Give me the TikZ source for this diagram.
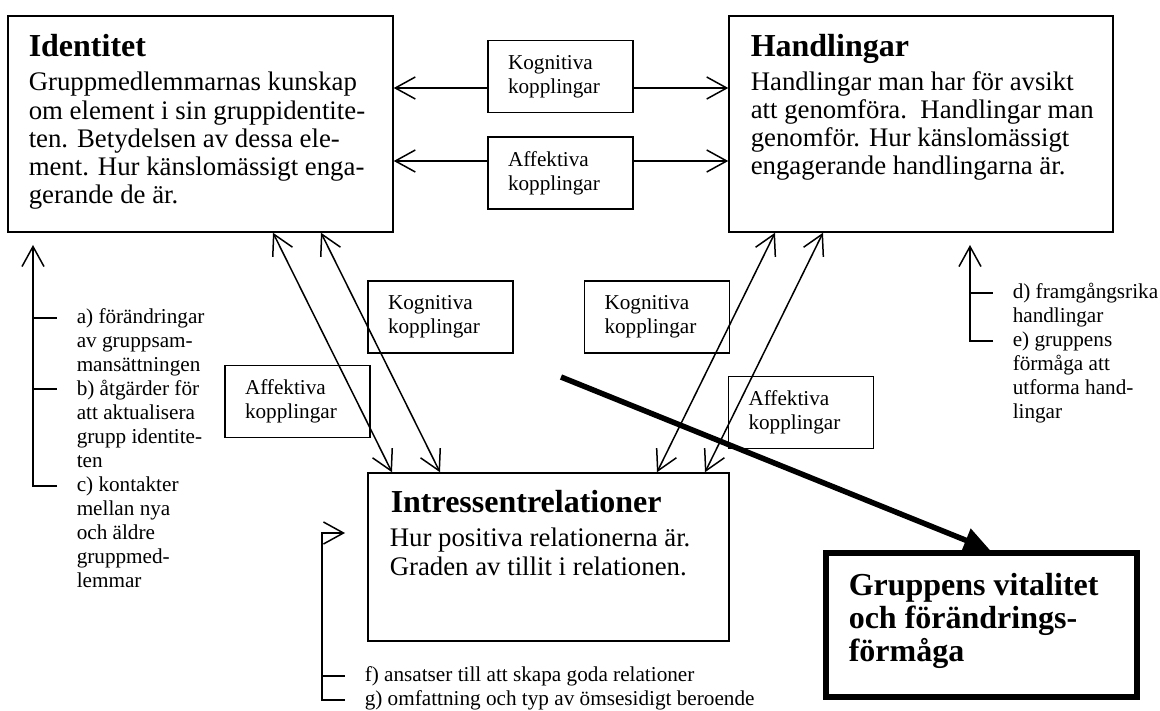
\documentclass[tikz,border=0pt]{standalone}
\usepackage{fontspec}
\setmainfont{Liberation Serif}
\usetikzlibrary{arrows.meta}
\newcommand{\ttlfont}{\fontsize{32}{33}\selectfont\bfseries}
\newcommand{\bodyfont}{\fontsize{26.8}{28.3}\selectfont}
\newcommand{\smlfont}{\fontsize{21.2}{24}\selectfont}

\begin{document}
\begin{tikzpicture}[x=1pt, y=-1pt, line width=1.5pt,
   >={Straight Barb[length=20pt, width=22pt]},
   bigbox/.style={draw, inner sep=0pt},
   linkbox/.style={draw, fill=white, minimum width=145pt, minimum height=72pt,
      text width=105pt, align=left, inner sep=0pt, font=\smlfont},
   ttl/.style={anchor=base west, align=left, inner sep=0pt, font=\ttlfont},
   txt/.style={anchor=base west, align=left, inner sep=0pt, font=\bodyfont},
   note/.style={anchor=base west, align=left, inner sep=0pt, font=\smlfont}]
         \useasboundingbox (0,0) rectangle (1160,711);
         \node[bigbox, minimum width=385pt, minimum height=216pt] (Id) at (200.5,124) {};
         \node[bigbox, minimum width=384pt, minimum height=216pt] (Ha) at (921,124) {};
         \node[bigbox, minimum width=361pt, minimum height=168pt] (Re) at (548.5,557) {};
         \node[bigbox, line width=6pt, minimum width=311pt, minimum height=144pt] (Vi) at (981.5,625) {};
         \node[ttl] (IdT) at (28,57) {Identitet};
         \node[txt] (IdB) at (28,204) {Gruppmedlemmarnas kunskap\\om element i sin gruppidentite-\\ten. Betydelsen av dessa ele-\\ment. Hur känslomässigt enga-\\gerande de är.};
         \node[ttl] (HaT) at (750,57) {Handlingar};
         \node[txt] (HaB) at (750,175) {Handlingar man har för avsikt\\att genomföra.\ \ Handlingar man\\genomför. Hur känslomässigt\\engagerande handlingarna är.};
         \node[ttl] (ReT) at (390,512) {Intressentrelationer};
         \node[txt] (ReB) at (389,575) {Hur positiva relationerna är.\\Graden av tillit i relationen.};
         \node[ttl] (ViT) at (848,661) {Gruppens vitalitet\\och förändrings-\\förmåga};
         \coordinate (kogrow) at (0,88);
         \coordinate (affrow) at (0,161);
         \draw[<->] (Id.east |- kogrow) -- (Ha.west |- kogrow);
         \draw[<->] (Id.east |- affrow) -- (Ha.west |- affrow);
         \node[linkbox] (KogA) at (560.5,76.5) {Kognitiva\\kopplingar};
         \node[linkbox] (AffA) at (560.5,173) {Affektiva\\kopplingar};
         \node[linkbox] (KogB) at (440.5,317) {Kognitiva\\kopplingar};
         \node[linkbox] (AffB) at (297.5,401.5) {Affektiva\\kopplingar};
         \node[linkbox] (KogC) at (657,317) {Kognitiva\\kopplingar};
         \node[linkbox] (AffC) at (801,412.5) {Affektiva\\kopplingar};
         \draw[<->] ([xshift=72.5pt]Id.south) -- ([xshift=-156.5pt]Re.north);
         \draw[<->] ([xshift=120.5pt]Id.south) -- ([xshift=-108.5pt]Re.north);
         \draw[<->] ([xshift=-146pt]Ha.south) -- ([xshift=108.5pt]Re.north);
         \draw[<->] ([xshift=-98pt]Ha.south) -- ([xshift=156.5pt]Re.north);
         \node[note] (NoteL) at (76,587) {a) förändringar\\av gruppsam-\\mansättningen\\b) åtgärder för\\att aktualisera\\grupp identite-\\ten\\c) kontakter\\mellan nya\\och äldre\\gruppmed-\\lemmar};
         \node[note] (NoteR) at (1012,418) {d) framgångsrika\\handlingar\\e) gruppens\\förmåga att\\utforma hand-\\lingar};
         \node[note] (NoteB) at (364,705) {f) ansatser till att skapa goda relationer\\g) omfattning och typ av ömsesidigt beroende};
         \coordinate (tipL) at (33,245);
         \coordinate (tickA) at (33,318);
         \coordinate (tickB) at (33,389);
         \coordinate (tickC) at (33,486);
         \draw[->] ([xshift=24pt]tickC) -- (tickC) -- (tipL);
         \draw (tickA) -- +(24,0);
         \draw (tickB) -- +(24,0);
         \coordinate (tipR) at (970,245);
         \coordinate (tickD) at (970,293);
         \coordinate (tickE) at (970,341);
         \draw[->] ([xshift=23pt]tickE) -- (tickE) -- (tipR);
         \draw (tickD) -- +(23,0);
         \coordinate (cornerB) at (322,533);
         \coordinate (tickF) at (322,676);
         \coordinate (tickG) at (322,700);
         \draw[->] ([xshift=23pt]tickG) -- (tickG) -- (cornerB) -- +(23,0);
         \draw (tickF) -- +(23,0);
         \coordinate (vstart) at (561,377);
         \draw[line width=5.5pt, -{Triangle[length=26pt, width=24pt]}] (vstart) -- ([xshift=167pt]Vi.north west);
      \end{tikzpicture}
\end{document}
